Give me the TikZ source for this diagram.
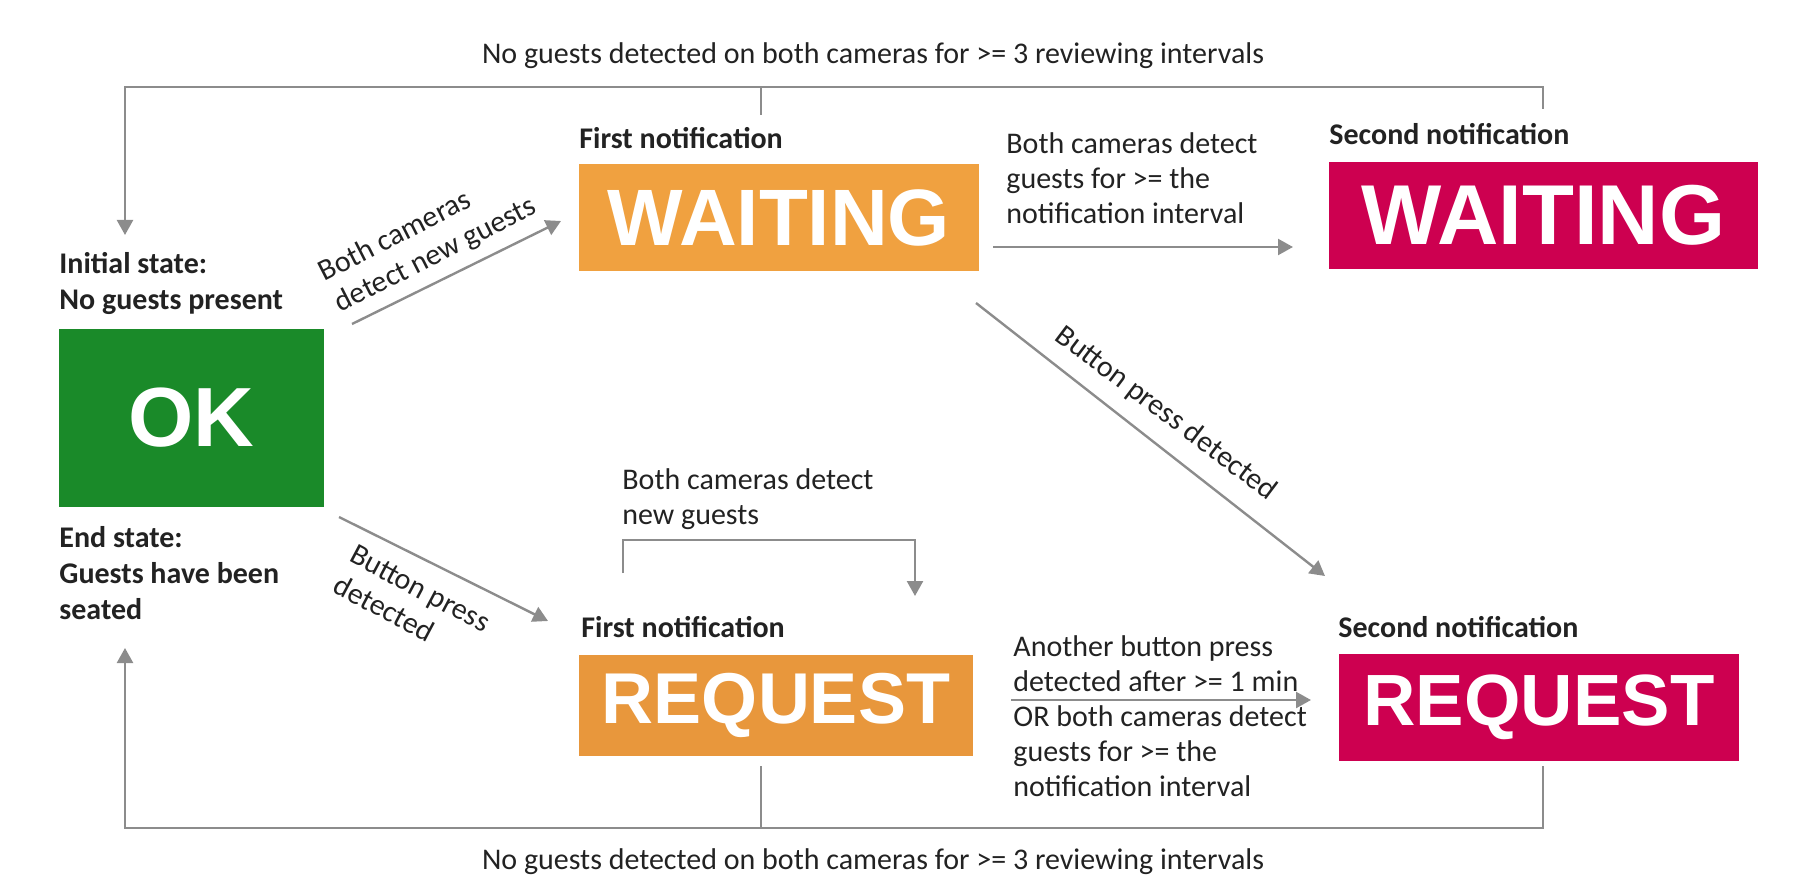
\documentclass[tikz,border=0pt]{standalone}
\usepackage{fontspec}
\setmainfont{Carlito}
\newfontfamily\boxfont{Liberation Sans}
\usetikzlibrary{arrows.meta}
\definecolor{okgreen}{HTML}{1A8A29}
\definecolor{waitorange}{HTML}{F0A140}
\definecolor{reqorange}{HTML}{E8973C}
\definecolor{crimson}{HTML}{CD0050}
\definecolor{conngray}{HTML}{8C8C8C}
\definecolor{txt}{HTML}{222222}
\tikzset{
  statebox/.style={rectangle, inner sep=0pt, text=white},
  lbl/.style={font=\fontsize{15}{17.5}\selectfont, align=left, inner sep=0pt, text=txt},
  hdr/.style={font=\fontsize{15}{18}\selectfont\bfseries, align=left, inner sep=0pt, text=txt},
  conn/.style={draw=conngray, line width=1.2pt},
  arr/.style={conn, -{Triangle[length=7.5pt,width=8pt]}}
}
\begin{document}
\begin{tikzpicture}[x=0.5pt,y=-0.5pt]
\useasboundingbox (0,0) rectangle (1806,888);

% state boxes
\node[statebox, fill=okgreen, minimum width=132.5pt, minimum height=89pt,
  font=\boxfont\bfseries\fontsize{42}{42}\selectfont] (ok) at (191.5,418) {OK};
\node[statebox, fill=waitorange, minimum width=200pt, minimum height=53.5pt,
  font=\boxfont\bfseries\fontsize{40}{40}\selectfont] (w1) at (779,217.5) {WAITING};
\node[statebox, fill=crimson, minimum width=214.5pt, minimum height=53.5pt,
  font=\boxfont\bfseries\fontsize{42.5}{42.5}\selectfont] (w2) at (1543.5,215.5) {WAITING};
\node[statebox, fill=reqorange, minimum width=197pt, minimum height=50.5pt,
  font=\boxfont\bfseries\fontsize{36}{36}\selectfont] (r1) at (776,705.5) {REQUEST};
\node[statebox, fill=crimson, minimum width=200pt, minimum height=53.5pt,
  font=\boxfont\bfseries\fontsize{36.3}{36.3}\selectfont] (r2) at (1539,707.5) {REQUEST};

% headings
\node[hdr, anchor=west] (hinit) at (59,283) {Initial state:\\No guests present};
\node[hdr, anchor=west] (hend) at (59,573) {End state:\\Guests have been\\seated};
\node[hdr, anchor=west] (hw1) at (579,138) {First notification};
\node[hdr, anchor=west] (hw2) at (1329,134) {Second notification};
\node[hdr, anchor=west] (hr1) at (581,627) {First notification};
\node[hdr, anchor=west] (hr2) at (1338,627) {Second notification};

% transition labels
\node[lbl] (ltop) at (873,56) {No guests detected on both cameras for >= 3 reviewing intervals};
\node[lbl] (lbot) at (873,862) {No guests detected on both cameras for >= 3 reviewing intervals};
\node[lbl, rotate=27] (lok) at (428,240) {Both cameras\\detect new guests};
\node[lbl, rotate=-28] (lbp) at (412,604) {Button press\\detected};
\node[lbl, rotate=-37] (lbd) at (1166,414) {Button press detected};
\node[lbl, anchor=west] (lww) at (1006,178) {Both cameras detect\\guests for >= the\\notification interval};
\node[lbl, anchor=west] (lrr) at (1013,716) {Another button press\\detected after >= 1 min\\OR both cameras detect\\guests for >= the\\notification interval};
\node[lbl, anchor=west] (lself) at (622,499) {Both cameras detect\\new guests};

% connector end points
\coordinate (a1s) at (352,324); \coordinate (a1e) at (561,221);
\coordinate (a2s) at (993,247); \coordinate (a2e) at (1293,247);
\coordinate (a3s) at (976,303); \coordinate (a3e) at (1325,576);
\coordinate (a4s) at (339,517); \coordinate (a4e) at (548,621);
\coordinate (a5s) at (1011,700); \coordinate (a5e) at (1311,700);
\coordinate (sls) at (623,573); \coordinate (sle) at (915,596);
\coordinate (tm) at (761,115); \coordinate (tr) at (1543,109);
\coordinate (tl) at (125,235);
\coordinate (bm) at (761,766); \coordinate (br) at (1543,766);
\coordinate (bl) at (125,648);

% transitions
\draw[arr] (a1s) -- (a1e);
\draw[arr] (a2s) -- (a2e);
\draw[arr] (a3s) -- (a3e);
\draw[arr] (a4s) -- (a4e);
\draw[arr] (a5s) -- (a5e);
\draw[arr] (sls) -- (623,540) -| (sle);

% feedback to OK (top)
\draw[arr] (tr) -- (1543,87) -| (tl);
\draw[conn] (tm) -- (761,87);
% feedback to OK (bottom)
\draw[arr] (br) -- (1543,828) -| (bl);
\draw[conn] (bm) -- (761,828);
\end{tikzpicture}
\end{document}
